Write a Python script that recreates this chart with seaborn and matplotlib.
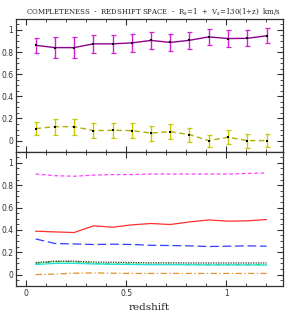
import numpy as np
import pandas as pd
import matplotlib
matplotlib.use("Agg")
import matplotlib.pyplot as plt
import seaborn as sns
from matplotlib.ticker import MultipleLocator

sns.set_style("ticks")
plt.rcParams['font.family'] = ['DejaVu Serif']
plt.rcParams['font.size'] = 6

# redshift bin centres (13 bins between 0 and 1.25)
redshift = [0.048, 0.144, 0.240, 0.337, 0.433, 0.529, 0.625,
            0.721, 0.817, 0.913, 1.010, 1.106, 1.202]

# top panel: completeness with errors
comp_mag = [0.861, 0.840, 0.840, 0.874, 0.874, 0.883, 0.905,
            0.887, 0.906, 0.937, 0.922, 0.924, 0.947]
err_mag = [0.066, 0.093, 0.095, 0.084, 0.082, 0.080, 0.074,
           0.077, 0.075, 0.072, 0.074, 0.072, 0.069]
comp_yel = [0.108, 0.126, 0.126, 0.090, 0.093, 0.090, 0.068,
            0.081, 0.054, 0.000, 0.030, 0.000, 0.000]
err_yel = [0.060, 0.072, 0.072, 0.068, 0.066, 0.066, 0.068,
           0.068, 0.063, 0.054, 0.063, 0.063, 0.057]

# bottom panel: fractions
frac_magenta = [0.900, 0.885, 0.880, 0.890, 0.895, 0.895, 0.900,
                0.900, 0.900, 0.900, 0.900, 0.905, 0.909]
frac_red = [0.388, 0.382, 0.376, 0.436, 0.424, 0.445, 0.457,
            0.448, 0.471, 0.489, 0.478, 0.481, 0.493]
frac_blue = [0.319, 0.278, 0.274, 0.269, 0.272, 0.269, 0.262,
             0.260, 0.257, 0.251, 0.254, 0.257, 0.254]
frac_black = [0.107, 0.120, 0.120, 0.112, 0.110, 0.108, 0.105,
              0.105, 0.104, 0.104, 0.104, 0.104, 0.104]
frac_green = [0.100, 0.115, 0.115, 0.100, 0.095, 0.095, 0.092,
              0.092, 0.090, 0.090, 0.090, 0.090, 0.090]
frac_cyan = [0.090, 0.100, 0.100, 0.095, 0.092, 0.090, 0.088,
             0.088, 0.087, 0.086, 0.086, 0.086, 0.085]
frac_orange = [0.000, 0.005, 0.012, 0.015, 0.012, 0.010, 0.010,
               0.010, 0.010, 0.010, 0.010, 0.010, 0.010]

fig = plt.figure(figsize=(2.86, 3.14), dpi=100)
ax1 = fig.add_axes([0.056, 0.517, 0.934, 0.423])
ax2 = fig.add_axes([0.056, 0.090, 0.934, 0.427])

df_top = pd.DataFrame({'z': redshift, 'mag': comp_mag, 'yel': comp_yel})

# top panel
ax1.errorbar(redshift, comp_mag, yerr=err_mag, fmt='none', ecolor='#d020d0',
             elinewidth=1.0, capsize=1.8, capthick=0.9, zorder=2)
sns.lineplot(data=df_top, x='z', y='mag', color='#900090', linewidth=1.0,
             marker='s', markersize=2.0, markeredgewidth=0,
             markerfacecolor='black', ax=ax1, zorder=3)
ax1.errorbar(redshift, comp_yel, yerr=err_yel, fmt='none', ecolor='#c8c800',
             elinewidth=1.0, capsize=1.8, capthick=0.9, zorder=2)
sns.lineplot(data=df_top, x='z', y='yel', color='#b0b000', linewidth=1.0,
             linestyle=(0, (4, 2.5)), marker='s', markersize=1.6,
             markeredgewidth=0, markerfacecolor='black', ax=ax1, zorder=3)

# bottom panel
series = [
    (frac_magenta, '#ff40ff', (0, (3, 2))),
    (frac_red, '#ff3030', '-'),
    (frac_blue, '#3040ff', (0, (7, 3))),
    (frac_green, '#20e020', (0, (4, 1.5, 1, 1.5))),
    (frac_cyan, '#20e0e0', '-'),
    (frac_black, '#303030', (0, (1, 1))),
    (frac_orange, '#e09030', (0, (5, 2, 1, 2))),
]
for vals, col, ls in series:
    sns.lineplot(x=redshift, y=vals, color=col, linewidth=0.9,
                 linestyle=ls, ax=ax2)

for ax in (ax1, ax2):
    ax.set_xlim(-0.05, 1.285)
    ax.set_ylim(-0.1, 1.1)
    ax.xaxis.set_major_locator(MultipleLocator(0.5))
    ax.xaxis.set_minor_locator(MultipleLocator(0.1))
    ax.yaxis.set_major_locator(MultipleLocator(0.2))
    ax.yaxis.set_minor_locator(MultipleLocator(0.05))
    ax.tick_params(which='both', direction='in', top=True, right=True,
                   colors='#303030', labelsize=5.5, pad=2)
    ax.tick_params(which='major', length=4, width=0.8)
    ax.tick_params(which='minor', length=2, width=0.6)
    for sp in ax.spines.values():
        sp.set_linewidth(0.9)
        sp.set_color('#303030')
    ax.set_xlabel('')
    ax.set_ylabel('')
    ax.set_yticks([0, 0.2, 0.4, 0.6, 0.8, 1.0])
    ax.set_yticklabels(['0', '0.2', '0.4', '0.6', '0.8', '1'],
                       family='DejaVu Sans')

ax1.tick_params(labelbottom=False)
ax2.set_xticks([0, 0.5, 1.0])
ax2.set_xticklabels(['0', '0.5', '1'], family='DejaVu Sans')
ax2.set_xlabel('redshift', fontsize=7.5, labelpad=4)

fig.text(0.535, 0.962, 'COMPLETENESS  -  REDSHIFT SPACE  -  R$_s$=1  +  V$_s$=130(1+z)  km/s',
         ha='center', va='center', fontsize=5)

fig.savefig('out.png', dpi=100)
